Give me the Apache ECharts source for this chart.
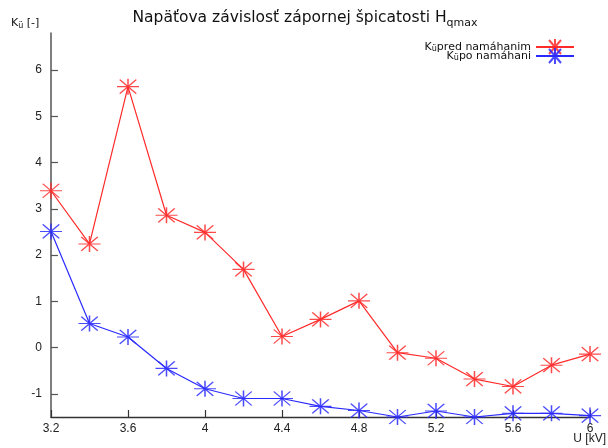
<!DOCTYPE html>
<html>
<head>
<meta charset="utf-8">
<script src="https://cdn.jsdelivr.net/npm/echarts@6/dist/echarts.min.js"></script>
<style>
  html, body { margin: 0; padding: 0; background: #fff; }
  #chart { width: 608px; height: 448px; }
</style>
</head>
<body>
<div id="chart"></div>
<script>
// Voltage steps U [kV]
const voltages = [3.2, 3.4, 3.6, 3.8, 4.0, 4.2, 4.4, 4.6, 4.8, 5.0, 5.2, 5.4, 5.6, 5.8, 6.0];
// Negative kurtosis before stress
const kurtBefore = [3.39, 2.24, 5.64, 2.86, 2.49, 1.69, 0.24, 0.61, 1.01, -0.11, -0.23, -0.68, -0.84, -0.38, -0.14];
// Negative kurtosis after stress
const kurtAfter = [2.51, 0.52, 0.23, -0.45, -0.89, -1.10, -1.10, -1.27, -1.36, -1.50, -1.37, -1.50, -1.42, -1.42, -1.47];
// Y tick values
const yTicks = [-1, 0, 1, 2, 3, 4, 5, 6];

const seriesNames = ['Kü pred namáhanim', 'Kü po namáhani'];
const RED = '#ff2a2a';
const BLUE = '#2a2aff';
const FONT = 'DejaVu Sans';
// eight-armed asterisk marker
const STAR = 'path://M0,8 L24,8 M12,0 L12,16 M3,1 L21,15 M3,15 L21,1';

const pairs = ys => voltages.map((x, i) => [x, ys[i]]);

const chart = echarts.init(document.getElementById('chart'), null, { renderer: 'canvas' });

function lineSeries(name, ys, color) {
  return {
    name: name,
    type: 'line',
    data: pairs(ys),
    symbol: STAR,
    symbolSize: [22, 16],
    showAllSymbol: true,
    lineStyle: { color: color, width: 1.2 },
    itemStyle: { color: color, borderColor: color, borderWidth: 1.3, opacity: 0.85 },
    emphasis: { disabled: true },
    animation: false,
    z: 3
  };
}

chart.setOption({
  backgroundColor: '#fff',
  animation: false,
  title: {
    text: '{t|Napäťova závislosť zápornej špicatosti H}{s|qmax}',
    left: 300,
    textAlign: 'center',
    top: 2,
    textStyle: {
      fontWeight: 'normal',
      rich: {
        t: { fontFamily: FONT, fontSize: 15.5, color: '#111', fontWeight: 'normal', lineHeight: 22, verticalAlign: 'middle' },
        s: { fontFamily: FONT, fontSize: 11, color: '#111', fontWeight: 'normal', lineHeight: 10, verticalAlign: 'bottom' }
      }
    }
  },
  legend: {
    data: seriesNames,
    orient: 'vertical',
    right: 33,
    top: 38,
    padding: 0,
    align: 'right',
    itemWidth: 38,
    itemHeight: 20,
    itemGap: -9,
    selectedMode: false,
    formatter: n => '{k|K}{u|ü}{k|' + n.slice(3) + '}',
    textStyle: {
      padding: [0, 0, 0, 0],
      rich: {
        k: { fontFamily: FONT, fontSize: 11, color: '#111', lineHeight: 11, verticalAlign: 'middle' },
        u: { fontFamily: FONT, fontSize: 8, color: '#111', lineHeight: 8, verticalAlign: 'bottom' }
      }
    }
  },
  grid: { left: 51, right: 18, top: 33, bottom: 31, containLabel: false },
  xAxis: {
    type: 'value',
    min: 3.2,
    max: 6.0,
    interval: 0.4,
    splitLine: { show: false },
    axisLine: { show: true, onZero: false, lineStyle: { color: '#333', width: 1.3 } },
    axisTick: { show: true, inside: true, length: 7, lineStyle: { color: '#333', width: 1.2 } },
    axisLabel: { margin: 6, fontFamily: 'Liberation Sans', fontSize: 12, color: '#222' }
  },
  yAxis: {
    type: 'value',
    min: -1.5,
    max: 6.8,
    splitLine: { show: false },
    axisLine: { show: true, onZero: false, lineStyle: { color: '#555', width: 1.5 } },
    axisTick: { show: true, inside: true, length: 7, customValues: yTicks, lineStyle: { color: '#555', width: 1.2 } },
    axisLabel: { margin: 9, customValues: yTicks, fontFamily: 'Liberation Sans', fontSize: 12, color: '#222' }
  },
  graphic: [
    {
      type: 'text',
      left: 11,
      top: 18,
      style: {
        text: '{k|K}{u|ü}{k| [-]}',
        rich: {
          k: { fontFamily: FONT, fontSize: 11, fill: '#111', lineHeight: 12, verticalAlign: 'middle' },
          u: { fontFamily: FONT, fontSize: 8, fill: '#111', lineHeight: 8, verticalAlign: 'bottom' }
        }
      }
    },
    {
      type: 'text',
      right: 2,
      top: 433,
      style: { text: 'U [kV]', fontFamily: 'Liberation Sans', fontSize: 12, fill: '#222' }
    }
  ],
  series: [
    lineSeries(seriesNames[0], kurtBefore, RED),
    lineSeries(seriesNames[1], kurtAfter, BLUE)
  ]
});
</script>
</body>
</html>
